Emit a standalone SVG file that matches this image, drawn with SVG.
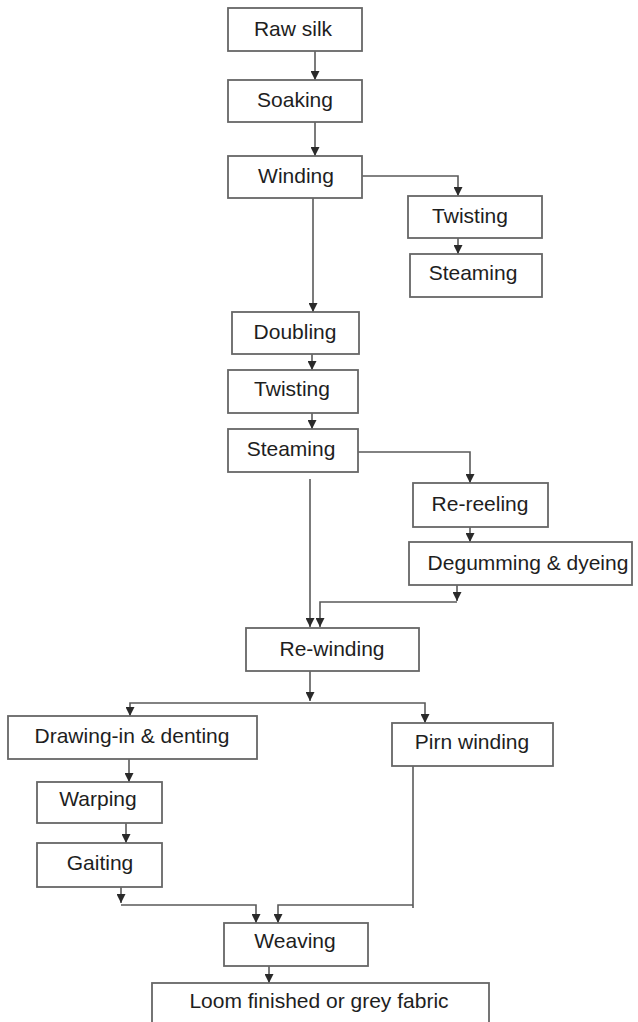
<svg xmlns="http://www.w3.org/2000/svg" width="638" height="1022" viewBox="0 0 638 1022">
<style>
.box{fill:#fff;stroke:#666;stroke-width:1.8}
.lbl{font-family:"Liberation Sans",Arial,sans-serif;font-size:21px;fill:#1e1e1e;text-anchor:middle}
.edge{fill:none;stroke:#5a5a5a;stroke-width:1.6}
</style>
<defs>
<marker id="arr" viewBox="0 0 10 10" refX="10" refY="5" markerWidth="10" markerHeight="9" markerUnits="userSpaceOnUse" orient="auto">
<path d="M0,0 L10,5 L0,10 z" fill="#2a2a2a"/>
</marker>
</defs>
<rect width="638" height="1022" fill="#fff"/>
<g id="connectors">
<path class="edge" d="M315,51 V80" marker-end="url(#arr)"/>
<path class="edge" d="M315,122 V156" marker-end="url(#arr)"/>
<path class="edge" d="M362,176 H458 V196" marker-end="url(#arr)"/>
<path class="edge" d="M313,198 V312" marker-end="url(#arr)"/>
<path class="edge" d="M458,238 V254" marker-end="url(#arr)"/>
<path class="edge" d="M312,354 V370" marker-end="url(#arr)"/>
<path class="edge" d="M312,413 V429" marker-end="url(#arr)"/>
<path class="edge" d="M358,452 H470 V483" marker-end="url(#arr)"/>
<path class="edge" d="M470,527 V542" marker-end="url(#arr)"/>
<path class="edge" d="M310,479 V627" marker-end="url(#arr)"/>
<path class="edge" d="M457,585 V601" marker-end="url(#arr)"/>
<path class="edge" d="M457,602 H320 V627" marker-end="url(#arr)"/>
<path class="edge" d="M310,671 V701" marker-end="url(#arr)"/>
<path class="edge" d="M310,703 H130 V716" marker-end="url(#arr)"/>
<path class="edge" d="M310,703 H425 V723" marker-end="url(#arr)"/>
<path class="edge" d="M129,759 V782" marker-end="url(#arr)"/>
<path class="edge" d="M126,823 V843" marker-end="url(#arr)"/>
<path class="edge" d="M121,887 V903" marker-end="url(#arr)"/>
<path class="edge" d="M121,905 H256 V923" marker-end="url(#arr)"/>
<path class="edge" d="M413,766 V908"/>
<path class="edge" d="M413,905 H278 V923" marker-end="url(#arr)"/>
<path class="edge" d="M269,966 V983" marker-end="url(#arr)"/>
</g>
<g id="raw-silk"><rect class="box" x="228" y="8" width="134" height="43"/><text class="lbl" x="293" y="36">Raw silk</text></g>
<g id="soaking"><rect class="box" x="228" y="80" width="134" height="42"/><text class="lbl" x="295" y="107">Soaking</text></g>
<g id="winding"><rect class="box" x="228" y="156" width="134" height="42"/><text class="lbl" x="296" y="183">Winding</text></g>
<g id="twisting-1"><rect class="box" x="408" y="196" width="134" height="42"/><text class="lbl" x="470" y="223">Twisting</text></g>
<g id="steaming-1"><rect class="box" x="410" y="254" width="132" height="43"/><text class="lbl" x="473" y="280">Steaming</text></g>
<g id="doubling"><rect class="box" x="232" y="312" width="127" height="42"/><text class="lbl" x="295" y="339">Doubling</text></g>
<g id="twisting-2"><rect class="box" x="228" y="370" width="130" height="43"/><text class="lbl" x="292" y="396">Twisting</text></g>
<g id="steaming-2"><rect class="box" x="228" y="429" width="130" height="43"/><text class="lbl" x="291" y="456">Steaming</text></g>
<g id="re-reeling"><rect class="box" x="413" y="483" width="135" height="44"/><text class="lbl" x="480" y="511">Re-reeling</text></g>
<g id="degumming"><rect class="box" x="409" y="542" width="223" height="43"/><text class="lbl" x="528" y="570">Degumming &amp; dyeing</text></g>
<g id="re-winding"><rect class="box" x="246" y="628" width="173" height="43"/><text class="lbl" x="332" y="656">Re-winding</text></g>
<g id="drawing-in"><rect class="box" x="8" y="716" width="249" height="43"/><text class="lbl" x="132" y="743">Drawing-in &amp; denting</text></g>
<g id="pirn-winding"><rect class="box" x="392" y="723" width="161" height="43"/><text class="lbl" x="472" y="749">Pirn winding</text></g>
<g id="warping"><rect class="box" x="37" y="782" width="125" height="41"/><text class="lbl" x="98" y="806">Warping</text></g>
<g id="gaiting"><rect class="box" x="37" y="843" width="125" height="44"/><text class="lbl" x="100" y="870">Gaiting</text></g>
<g id="weaving"><rect class="box" x="224" y="923" width="144" height="43"/><text class="lbl" x="295" y="948">Weaving</text></g>
<g id="loom"><rect class="box" x="152" y="983" width="337" height="50"/><text class="lbl" x="319" y="1008">Loom finished or grey fabric</text></g>
</svg>
